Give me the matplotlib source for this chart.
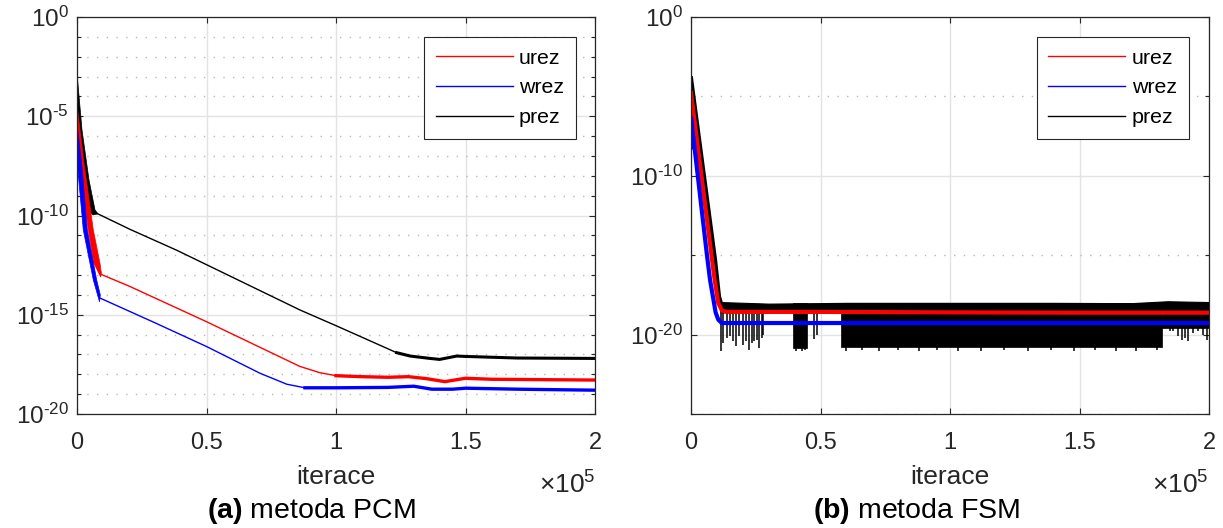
import numpy as np
import matplotlib.pyplot as plt
from matplotlib.ticker import FixedLocator, NullFormatter

plt.rcParams['font.family'] = ['Liberation Sans', 'DejaVu Sans']
plt.rcParams['mathtext.fontset'] = 'custom'
plt.rcParams['mathtext.rm'] = 'Liberation Sans'
plt.rcParams['mathtext.bf'] = 'Liberation Sans:bold'
plt.rcParams['mathtext.it'] = 'Liberation Sans:italic'
plt.rcParams['mathtext.default'] = 'regular'
plt.rcParams['axes.unicode_minus'] = False

# ---- data (exponents of 10) ----
# (a) PCM : thick oscillating start bands (upper edge, then lower edge back)
pcm_u_band_x = [0, 2700, 6300, 8880, 9400, 9140, 6560, 4380, 1160, 0]
pcm_u_band_y = [-4.43, -7.37, -10.73, -12.41, -12.9, -13.1, -12.41, -10.73, -7.37, -6.2]
pcm_w_band_x = [0, 1800, 4000, 7600, 9000, 8700, 6300, 2440, 100, 0]
pcm_w_band_y = [-5.36, -7.37, -10.73, -13.25, -14.0, -14.35, -13.25, -10.73, -7.37, -7.5]
pcm_p_band_x = [0, 1930, 4630, 6950, 8100, 6180, 3860, 1430, 390, 0]
pcm_p_band_y = [-2.82, -5.69, -8.21, -9.72, -9.92, -9.97, -9.72, -8.21, -5.69, -5.0]

pcm_u_x = [9000, 20000, 50000, 70000, 86000, 93800, 100000]
pcm_u_y = [-12.95, -13.55, -15.35, -16.6, -17.6, -17.92, -18.07]
pcm_u_flat_x = [100000, 110000, 120000, 128000, 135000, 142000, 150000, 160000, 180000, 200000]
pcm_u_flat_y = [-18.07, -18.12, -18.15, -18.12, -18.22, -18.37, -18.2, -18.25, -18.27, -18.29]

pcm_w_x = [8900, 30000, 50000, 70700, 81000, 88000]
pcm_w_y = [-14.16, -15.4, -16.6, -17.95, -18.5, -18.68]
pcm_w_flat_x = [88000, 100000, 120000, 130000, 137000, 145000, 150000, 170000, 200000]
pcm_w_flat_y = [-18.68, -18.68, -18.66, -18.6, -18.75, -18.75, -18.7, -18.75, -18.8]

pcm_p_x = [7000, 20500, 38500, 86100, 100000, 123400]
pcm_p_y = [-9.85, -10.7, -11.75, -14.76, -15.55, -16.91]
pcm_p_flat_x = [123400, 128600, 136300, 140000, 146600, 150000, 170000, 200000]
pcm_p_flat_y = [-16.91, -17.08, -17.2, -17.25, -17.08, -17.1, -17.18, -17.2]

# (b) FSM
fsm_u_x = [0, 9000, 10500, 12000, 14000, 50000, 100000, 150000, 200000]
fsm_u_y = [-4.78, -16.4, -18.0, -18.5, -18.57, -18.57, -18.6, -18.62, -18.62]
fsm_w_x = [0, 0, 6060, 7340, 9500, 10540, 11850, 200000]
fsm_w_y = [-8.2, -6.3, -14.86, -16.54, -18.6, -19.06, -19.27, -19.27]
fsm_p_x = [0, 9270, 10800, 11500]
fsm_p_y = [-3.86, -15.28, -17.6, -18.0]
fsm_p_top_x = [11500, 30000, 60000, 100000, 140000, 170000, 184000, 200000]
fsm_p_top_y = [-17.95, -18.05, -18.0, -18.0, -18.0, -18.02, -17.9, -17.95]
fsm_p_dense = [(39500, 44700, -20.85), (57900, 181700, -20.75), (181700, 200000, -19.6)]
fsm_p_spike_x = [11460, 12490, 13780, 15060, 16350, 17370, 18660, 19940, 21240, 22520,
                 23430, 24320, 25370, 26370, 27300, 27930, 40500, 42800, 44000, 47600, 48530,
                 60000, 66000, 72500, 80000, 88000, 95000, 103000, 112000, 121000, 130000,
                 139000, 148000, 156000, 164000, 172000, 180000,
                 184940, 186230, 188160, 189450, 190740, 192020, 193950, 195880, 197810, 199100]
fsm_p_spike_y = [-21.05, -20.53, -20.21, -20.1, -20.42, -20.73, -20.1, -20.63, -20.42, -20.94,
                 -20.53, -20.42, -20.31, -20.84, -20.21, -20.0, -21.05, -21.05, -21.0, -20.3, -20.0,
                 -21.05, -21.0, -21.05, -21.0, -21.05, -21.0, -21.05, -21.05, -21.0, -21.05,
                 -21.0, -21.05, -21.0, -21.05, -21.05, -21.0,
                 -19.8, -19.75, -20.1, -20.31, -20.21, -20.42, -19.9, -19.75, -20.0, -20.31]

xtick_vals = [0, 50000, 100000, 150000, 200000]
xtick_labels = ['0', '0.5', '1', '1.5', '2']

P = lambda v: 10.0 ** np.asarray(v, dtype=float)

fig = plt.figure(figsize=(12.23, 5.28), dpi=100)
axL = fig.add_axes([77 / 1223, 1 - 414 / 528, 518 / 1223, 397 / 528])
axR = fig.add_axes([691 / 1223, 1 - 414 / 528, 518 / 1223, 397 / 528])

dark = '#262626'


def style(ax, major, minor):
    ax.set_yscale('log')
    ax.set_xlim(0, 200000)
    ax.set_xticks(xtick_vals)
    ax.set_xticklabels(xtick_labels)
    ax.yaxis.set_major_locator(FixedLocator([10.0 ** e for e in major]))
    ax.yaxis.set_minor_locator(FixedLocator([10.0 ** e for e in minor]))
    ax.yaxis.set_minor_formatter(NullFormatter())
    ax.set_yticklabels([r'$10^{%d}$' % e if e == 0 else r'$10^{\text{-}%d}$' % (-e) for e in major])
    ax.tick_params(which='both', direction='in', top=True, right=True, colors=dark, width=0.8)
    ax.tick_params(axis='x', which='major', length=4.3, pad=13, labelsize=17)
    ax.tick_params(axis='y', which='major', length=4.3, pad=6, labelsize=17.5)
    ax.tick_params(which='minor', length=2.9)
    ax.tick_params(axis='x', which='minor', bottom=False, top=False)
    for s in ax.spines.values():
        s.set_color(dark)
        s.set_linewidth(0.9)
    ax.grid(True, which='major', color='#e3e3e3', lw=1.0, ls='-')
    ax.grid(True, which='minor', axis='y', color='#b8b8b8', lw=1.0, ls=(0, (1, 6)))
    ax.set_axisbelow(True)
    ax.set_xlabel('iterace', fontsize=19, color=dark, labelpad=8)


# ---- (a) PCM ----
style(axL, [0, -5, -10, -15, -20], [e for e in range(-1, -20, -1) if e % 5 != 0])
axL.set_ylim(1e-20, 1e0)
axL.fill(pcm_p_band_x, P(pcm_p_band_y), color='black', lw=0.5)
axL.fill(pcm_u_band_x, P(pcm_u_band_y), color='red', lw=0.5)
axL.fill(pcm_w_band_x, P(pcm_w_band_y), color='blue', lw=0.5)
axL.plot(pcm_u_x, P(pcm_u_y), color='red', lw=1.0)
axL.plot(pcm_w_x, P(pcm_w_y), color='blue', lw=1.0)
axL.plot(pcm_p_x, P(pcm_p_y), color='black', lw=1.0)
axL.plot(pcm_u_flat_x, P(pcm_u_flat_y), color='red', lw=2.4)
axL.plot(pcm_w_flat_x, P(pcm_w_flat_y), color='blue', lw=2.4)
axL.plot(pcm_p_flat_x, P(pcm_p_flat_y), color='black', lw=2.2)

# ---- (b) FSM ----
style(axR, [0, -10, -20], [-5, -15, -25])
axR.set_ylim(1e-25, 1e0)
axR.fill_between(fsm_p_top_x, P(fsm_p_top_y), P(-18.6), color='black', lw=0.8)
for x0, x1, lo in fsm_p_dense:
    axR.fill_between([x0, x1], [P(-18.0), P(-18.0)], [P(lo), P(lo)], color='black', lw=0.5)
axR.vlines(fsm_p_spike_x, P(-18.3), P(fsm_p_spike_y), color='black', lw=1.1)
axR.plot(fsm_p_x, P(fsm_p_y), color='black', lw=3.0)
axR.plot(fsm_u_x, P(fsm_u_y), color='red', lw=3.0)
axR.plot(fsm_w_x, P(fsm_w_y), color='blue', lw=3.0)

for ax, ax_right in ((axL, 0.963), (axR, 0.961)):
    h = [plt.Line2D([], [], color=c, lw=1.0) for c in ('red', 'blue', 'black')]
    leg = ax.legend(h, ['urez', 'wrez', 'prez'], loc='upper right',
                    bbox_to_anchor=(ax_right, 0.95), borderaxespad=0, fontsize=15.4,
                    handlelength=3.6, handletextpad=0.3, labelspacing=0.5,
                    borderpad=0.55, fancybox=False, framealpha=1)
    leg.get_frame().set_edgecolor(dark)
    leg.get_frame().set_linewidth(0.8)

# x10^5 multipliers and captions
fig.text(596 / 1223, 1 - 494 / 528, r'$\times10^{5}$', ha='right', va='baseline',
         fontsize=19, color=dark)
fig.text(1209 / 1223, 1 - 494 / 528, r'$\times10^{5}$', ha='right', va='baseline',
         fontsize=19, color=dark)
fig.text(311 / 1223, 1 - 518 / 528, r'$\mathbf{(a)}$ metoda PCM', ha='center',
         va='baseline', fontsize=20.5)
fig.text(917 / 1223, 1 - 518 / 528, r'$\mathbf{(b)}$ metoda FSM', ha='center',
         va='baseline', fontsize=20.5)

fig.savefig('out.png', dpi=100)
